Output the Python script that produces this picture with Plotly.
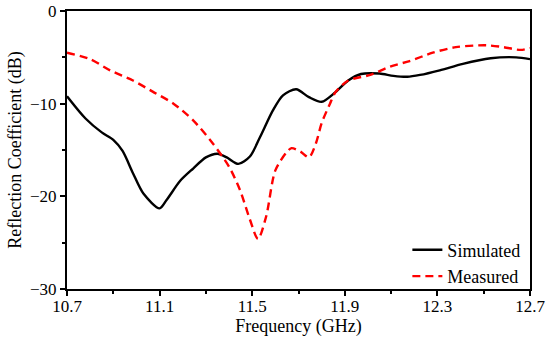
import plotly.graph_objects as go

sim_f = [10.7, 10.78, 10.85, 10.9, 10.94, 10.985, 11.03, 11.1, 11.13, 11.19, 11.245, 11.3, 11.35,
         11.39, 11.44, 11.49, 11.534, 11.59, 11.633, 11.69, 11.745, 11.8, 11.86, 11.915,
         11.97, 12.05, 12.11, 12.17, 12.225, 12.31, 12.41, 12.53, 12.64, 12.7]
sim_db = [-9.2, -11.6, -13.1, -13.9, -15.1, -17.5, -19.7, -21.3, -20.4, -18.3, -17.0, -15.8, -15.4,
          -15.8, -16.5, -15.7, -13.6, -10.7, -9.1, -8.45, -9.3, -9.8, -8.75, -7.5,
          -6.8, -6.75, -7.0, -7.1, -6.9, -6.4, -5.7, -5.1, -5.0, -5.2]

meas_f = [10.7, 10.8, 10.886, 10.985, 11.07, 11.16, 11.245, 11.33, 11.4, 11.447, 11.49, 11.525,
          11.56, 11.6, 11.65, 11.67, 11.71, 11.745, 11.775, 11.8, 11.836, 11.86, 11.915, 12.01,
          12.095, 12.18, 12.28, 12.38, 12.51, 12.585, 12.66, 12.7]
meas_db = [-4.5, -5.2, -6.4, -7.5, -8.7, -10.0, -11.8, -14.3, -16.8, -19.3, -22.5, -24.6,
           -22.2, -17.2, -15.2, -14.8, -15.2, -15.8, -14.3, -12.1, -10.0, -8.75, -7.5, -6.9,
           -6.0, -5.4, -4.5, -3.9, -3.7, -3.9, -4.2, -4.0]

x_ticks = [10.7, 11.1, 11.5, 11.9, 12.3, 12.7]
y_ticks = [0, -10, -20, -30]
y_labels = ["0", "\u221210", "\u221220", "\u221230"]

font = "Liberation Serif, Times New Roman, serif"

fig = go.Figure()
fig.add_trace(go.Scatter(x=sim_f, y=sim_db, mode="lines", name="Simulated",
                         line=dict(color="black", width=2.4, shape="spline", smoothing=0.8)))
fig.add_trace(go.Scatter(x=meas_f, y=meas_db, mode="lines", name="Measured",
                         line=dict(color="#ff0000", width=2.4, shape="spline", smoothing=0.8,
                                   dash="8px,5px")))

axis_common = dict(showline=True, linecolor="black", linewidth=2, mirror=True,
                   ticks="outside", ticklen=5, tickwidth=2, tickcolor="black",
                   showgrid=False, zeroline=False, automargin=False,
                   ticklabeloverflow="allow",
                   tickfont=dict(family=font, size=17, color="black"))

fig.update_xaxes(range=[10.7, 12.7], tickvals=x_ticks, ticktext=[str(v) for v in x_ticks],
                 minor=dict(dtick=0.2, tick0=10.7, ticks="outside", ticklen=3, tickwidth=2,
                            tickcolor="black"),
                 ticklabelstandoff=-4,
                 title=dict(text="Frequency (GHz)", font=dict(family=font, size=18, color="black"),
                            standoff=0),
                 **axis_common)
fig.update_yaxes(range=[-30, 0], tickvals=y_ticks, ticktext=y_labels,
                 minor=dict(dtick=5, tick0=0, ticks="outside", ticklen=3, tickwidth=2,
                            tickcolor="black"),
                 title=dict(text="Reflection Coefficient (dB)",
                            font=dict(family=font, size=18, color="black"), standoff=4),
                 **axis_common)

fig.update_layout(
    width=550, height=343,
    margin=dict(l=67, r=20, t=11, b=54),
    plot_bgcolor="white", paper_bgcolor="white",
    legend=dict(x=0.99, y=-0.02, xanchor="right", yanchor="bottom",
                bgcolor="rgba(0,0,0,0)", font=dict(family=font, size=18, color="black"),
                tracegroupgap=0),
)

fig.write_html("out.html", config={"displayModeBar": False},
               post_script="document.body.style.margin='0';document.body.style.padding='0';")
